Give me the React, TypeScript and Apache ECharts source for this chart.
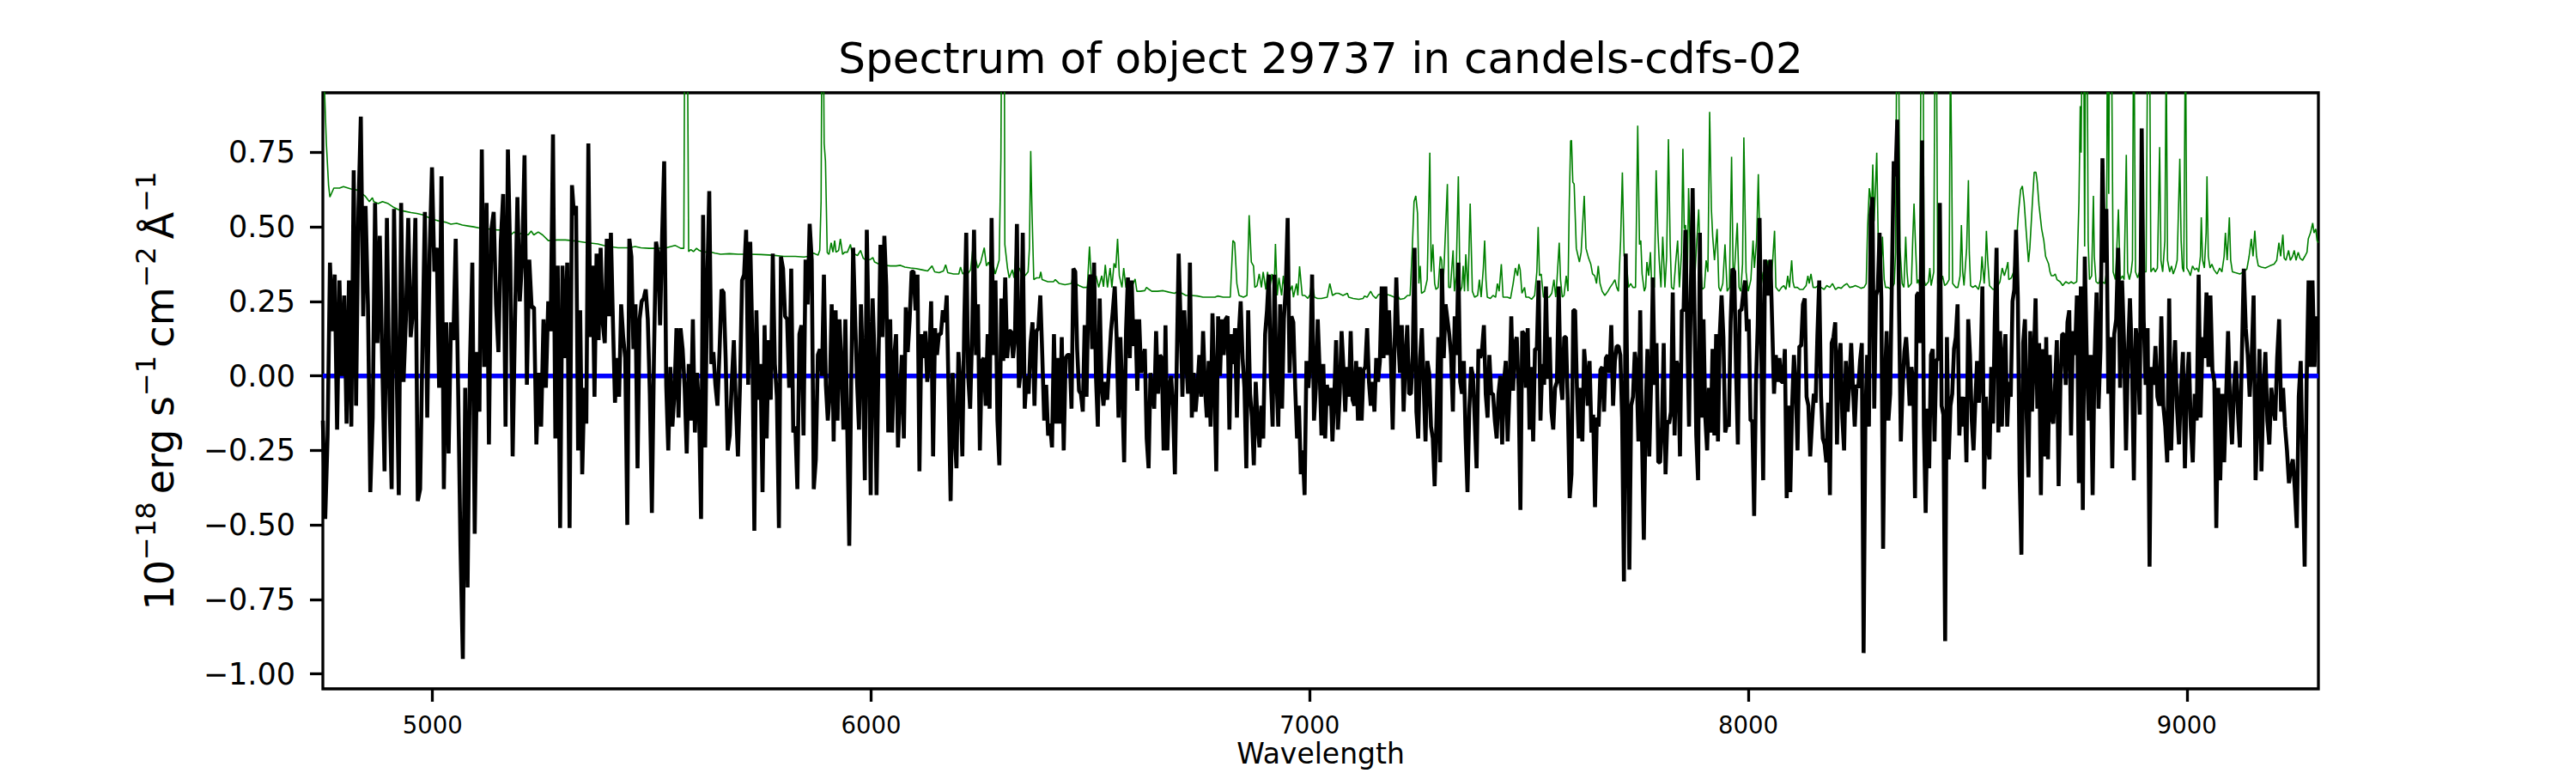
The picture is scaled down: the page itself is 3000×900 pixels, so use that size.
import React, { useEffect, useRef } from "react";
import * as echarts from "echarts";

const TITLE = "Spectrum of object 29737 in candels-cdfs-02";
const X_LABEL = "Wavelength";
const X_MIN = 4750;
const X_MAX = 9300;
const Y_MIN = -1.05;
const Y_MAX = 0.95;
const X_TICKS = [5000, 6000, 7000, 8000, 9000];
const Y_TICKS = [-1.0, -0.75, -0.5, -0.25, 0.0, 0.25, 0.5, 0.75];

// wavelength edges of the read-off chunks of the flux spectrum
const SEGMENT_EDGES = [4750, 5318, 5888, 6457, 7027, 7597, 8166, 8736, 9300];

const FLUX_A = [-0.15, -0.48, -0.20, 0.38, 0.15, 0.34, -0.18, 0.32, 0.00, 0.27, -0.16, 0.32, -0.17, 0.69, -0.10, 0.56, 0.87, 0.20, 0.57, 0.24, -0.39, -0.14, 0.58, 0.11, 0.47, 0.06, -0.32, 0.53, -0.04, -0.38, 0.56, 0.07, -0.40, 0.58, -0.02, 0.19, 0.53, 0.13, 0.22, 0.53, -0.42, -0.38, 0.11, 0.55, -0.14, 0.41, 0.70, 0.35, 0.43, -0.04, 0.67, -0.38, 0.18, -0.26, 0.18, 0.12, 0.46, -0.03, -0.57, -0.95, -0.04, -0.71, 0.04, 0.38, -0.53, 0.08, -0.12, 0.76, 0.03, 0.58, -0.23, 0.49, 0.55, 0.24, 0.08, 0.45, 0.61, -0.17, 0.76, 0.39, -0.27, 0.19, 0.60, 0.25, 0.39, 0.74, -0.03, 0.39, 0.23, 0.23, -0.23, 0.01, -0.17, 0.19, -0.04, 0.25, 0.15, 0.81, -0.21, 0.37, -0.51, 0.37, 0.06, 0.38, -0.51];
const FLUX_B = [0.64, 0.54, 0.57, -0.25, 0.22, -0.33, -0.04, -0.16, 0.78, 0.13, 0.37, -0.07, 0.41, 0.12, 0.43, 0.18, 0.11, 0.46, 0.20, 0.48, 0.18, -0.09, 0.06, -0.07, 0.24, 0.13, 0.06, -0.50, 0.46, 0.40, 0.09, 0.24, -0.31, 0.19, 0.25, 0.26, 0.29, 0.19, -0.06, -0.46, 0.06, 0.45, 0.41, 0.17, 0.47, 0.72, -0.03, -0.25, 0.03, -0.17, -0.06, 0.16, -0.14, 0.16, 0.09, -0.04, -0.26, 0.04, -0.15, 0.19, -0.19, 0.01, -0.11, -0.48, 0.54, -0.24, 0.31, 0.62, 0.04, 0.08, -0.03, -0.10, 0.08, 0.29, 0.28, 0.06, -0.25, -0.20, -0.02, 0.12, -0.10, -0.27, -0.03, 0.32, 0.34, 0.49, -0.03, 0.45, 0.13, -0.52, 0.22, -0.08, 0.04, -0.39, 0.17, -0.21, 0.12, -0.08, 0.41, 0.04, -0.07, -0.51, 0.40, 0.36, 0.20, 0.19, -0.04, 0.36, -0.19, -0.17, -0.38, 0.14, 0.17, -0.20, 0.39, 0.24, 0.51, 0.39, -0.38, -0.28, 0.07, 0.09];
const FLUX_C = [0.00, 0.34, -0.03, -0.15, -0.06, 0.24, -0.22, 0.22, -0.15, 0.19, 0.03, -0.18, 0.19, -0.18, -0.57, -0.02, 0.43, 0.20, -0.02, -0.18, 0.24, 0.03, -0.35, 0.49, 0.13, -0.40, 0.26, 0.06, -0.40, 0.05, 0.44, 0.13, 0.47, 0.30, -0.19, 0.19, -0.19, 0.06, 0.14, -0.24, -0.07, 0.07, -0.21, 0.23, 0.08, 0.19, 0.35, 0.35, 0.22, 0.34, -0.32, 0.14, 0.06, 0.15, -0.02, 0.06, 0.25, -0.27, 0.16, 0.07, 0.14, 0.14, 0.22, 0.18, 0.27, -0.07, -0.42, 0.01, -0.19, -0.31, 0.08, -0.03, -0.27, 0.18, 0.48, 0.00, -0.11, 0.13, 0.49, 0.07, 0.24, -0.25, 0.05, 0.06, -0.10, 0.14, -0.11, 0.53, 0.07, 0.32, -0.15, -0.30, 0.26, 0.05, 0.33, 0.06, 0.15, 0.15, 0.06, 0.13, 0.51, -0.04, 0.02, 0.48, -0.11, 0.00, -0.06, 0.11, 0.18, -0.10, 0.15, 0.16, 0.27, 0.07, -0.15, -0.03, -0.20, -0.16, -0.24, 0.14, -0.16, 0.06, -0.16, 0.13, -0.25, 0.06, 0.07, 0.07];
const FLUX_D = [-0.11, 0.36, 0.35, 0.09, -0.05, -0.06, -0.12, 0.17, -0.07, 0.29, 0.34, 0.09, 0.38, 0.00, -0.17, 0.26, -0.03, -0.10, -0.02, -0.08, 0.04, 0.15, 0.22, 0.30, 0.13, -0.14, 0.13, -0.06, -0.29, 0.15, 0.33, 0.06, 0.32, 0.10, 0.19, -0.05, 0.19, 0.01, 0.06, 0.09, -0.21, -0.31, 0.01, -0.06, -0.11, 0.15, -0.06, 0.07, 0.06, -0.25, 0.17, -0.25, -0.04, 0.00, -0.11, -0.33, 0.05, 0.41, 0.19, -0.07, 0.22, 0.05, -0.06, 0.38, -0.14, 0.01, -0.12, -0.04, 0.07, -0.07, 0.15, -0.04, -0.14, 0.05, -0.17, 0.21, -0.02, -0.32, 0.20, 0.00, 0.19, 0.07, 0.19, 0.20, -0.18, 0.14, 0.04, 0.16, -0.14, 0.14, 0.25, 0.06, -0.04, -0.31, 0.22, -0.06, -0.14, -0.30, -0.02, -0.16, -0.24, -0.10, -0.21, 0.14, 0.22, 0.34, 0.00, -0.17, 0.34, 0.00, -0.17, 0.24, -0.11, 0.19, 0.30, 0.53, 0.01, 0.20, 0.18, -0.04, -0.21, -0.10, -0.33, -0.25, -0.40, 0.05, -0.04, 0.05, 0.34, -0.15, -0.04, 0.19, 0.02];
const FLUX_E = [-0.20, 0.04, -0.21, -0.03, -0.10, -0.04, -0.22, -0.07, 0.12, -0.18, -0.06, 0.15, 0.03, -0.12, 0.03, -0.07, 0.15, -0.08, -0.10, 0.05, -0.15, 0.03, -0.15, 0.02, 0.03, 0.16, -0.02, -0.10, -0.02, -0.12, 0.06, -0.02, 0.05, 0.30, 0.06, 0.30, 0.07, 0.22, 0.06, -0.18, 0.09, 0.33, 0.13, 0.01, 0.17, -0.12, 0.06, 0.17, -0.06, -0.06, 0.07, 0.43, -0.12, -0.21, 0.06, 0.16, -0.03, -0.22, 0.05, 0.01, -0.17, -0.21, -0.37, -0.15, 0.13, -0.29, 0.36, 0.06, 0.24, 0.19, 0.14, 0.07, -0.12, 0.20, 0.07, 0.38, -0.02, -0.06, 0.05, -0.21, -0.39, -0.11, 0.03, 0.00, -0.15, -0.31, 0.09, 0.06, 0.09, 0.17, -0.06, -0.14, 0.07, -0.06, -0.06, -0.15, -0.21, -0.06, 0.00, -0.23, -0.02, 0.05, -0.22, -0.05, 0.20, -0.05, 0.11, 0.13, -0.04, -0.45, 0.15, 0.14, -0.04, 0.16, -0.18, 0.03, -0.22, 0.09, 0.09, 0.32, -0.15, 0.04, -0.03, 0.30, -0.01, 0.13, -0.12, -0.18, -0.04, -0.02, 0.30, -0.02, -0.08, 0.13, 0.13, -0.10, -0.41];
const FLUX_F = [-0.33, 0.22, 0.22, -0.04, -0.21, -0.04, -0.22, 0.09, 0.01, -0.10, 0.05, -0.19, -0.13, -0.44, -0.14, -0.17, 0.02, 0.03, -0.12, 0.06, 0.07, 0.01, 0.17, -0.10, 0.05, 0.10, 0.10, 0.07, -0.14, -0.69, 0.41, -0.12, -0.65, -0.10, -0.07, 0.08, 0.03, -0.22, 0.22, -0.21, -0.55, -0.12, 0.09, -0.27, -0.03, 0.33, -0.03, 0.11, -0.29, -0.29, -0.17, 0.11, -0.33, -0.15, -0.16, -0.12, 0.28, -0.20, 0.05, 0.03, -0.27, 0.22, 0.22, 0.49, 0.15, -0.17, 0.29, 0.63, 0.22, -0.20, -0.35, 0.48, -0.14, 0.19, -0.14, -0.25, -0.04, -0.19, 0.09, -0.20, 0.14, -0.22, 0.14, 0.27, 0.13, -0.19, -0.16, -0.17, 0.18, 0.36, 0.35, 0.02, -0.23, 0.22, 0.22, 0.28, 0.32, 0.15, 0.19, -0.15, -0.15, -0.47, -0.03, 0.17, 0.53, 0.06, -0.35, 0.39, 0.35, 0.27, 0.39, 0.17, -0.06, 0.07, -0.02, 0.06, -0.02, -0.02, 0.09, -0.41, -0.10, -0.39, -0.10, 0.07, -0.04, -0.25, 0.10, 0.10, 0.24, 0.26, -0.07, -0.10, -0.27, -0.16, -0.06, -0.09, 0.14, 0.32];
const FLUX_G = [-0.07, -0.21, -0.23, -0.29, -0.09, -0.40, 0.11, 0.13, 0.18, -0.23, 0.06, 0.11, -0.14, -0.25, 0.05, -0.12, -0.02, 0.11, -0.04, -0.17, -0.03, -0.04, 0.05, 0.11, -0.93, -0.15, 0.07, -0.17, 0.54, 0.60, -0.11, 0.27, 0.29, 0.48, 0.26, -0.58, -0.02, 0.15, -0.15, -0.06, 0.34, 0.72, 0.67, 0.86, 0.22, -0.22, -0.04, 0.08, 0.13, 0.03, -0.10, 0.03, -0.02, -0.41, 0.27, 0.28, 0.11, 0.79, -0.17, -0.46, -0.11, -0.31, 0.07, 0.09, -0.22, 0.05, 0.06, 0.58, -0.10, -0.13, -0.89, 0.13, -0.28, -0.10, -0.06, 0.09, 0.13, 0.24, -0.20, -0.07, -0.17, -0.07, -0.29, 0.19, 0.07, -0.15, -0.25, -0.09, 0.05, -0.09, 0.03, 0.30, -0.38, -0.07, -0.24, -0.28, 0.03, -0.16, 0.19, 0.43, -0.19, 0.15, -0.17, 0.06, 0.14, -0.17, -0.02, -0.07, 0.25, 0.29, 0.49, 0.26, -0.33, -0.60, 0.11, 0.19, -0.14, -0.34, 0.15, -0.12, 0.06, 0.26, -0.11, 0.11, -0.40, 0.09, -0.27, 0.13, -0.28, 0.07, -0.14, -0.16, -0.03, 0.12, -0.37, -0.03, 0.14, 0.14, -0.03, 0.18, 0.22];
const FLUX_H = [-0.20, 0.15, 0.07, 0.27, -0.36, 0.30, -0.45, 0.40, 0.07, -0.15, 0.07, -0.40, 0.06, 0.28, -0.11, 0.09, 0.73, 0.38, 0.56, -0.06, 0.13, -0.31, 0.14, 0.19, 0.43, -0.04, 0.32, 0.11, -0.25, 0.07, 0.26, 0.06, -0.35, 0.16, 0.09, -0.13, 0.83, 0.19, -0.03, 0.16, -0.64, 0.03, -0.03, 0.10, -0.07, -0.10, 0.20, -0.10, -0.17, -0.29, 0.26, -0.25, -0.02, 0.12, -0.11, -0.23, -0.04, 0.08, -0.31, -0.04, 0.08, -0.17, -0.29, -0.06, -0.15, 0.34, -0.14, 0.13, 0.06, 0.28, 0.03, 0.27, 0.02, -0.02, -0.51, -0.04, -0.35, -0.06, -0.29, -0.07, 0.15, -0.10, -0.23, -0.04, 0.05, -0.12, -0.24, 0.06, 0.36, 0.16, 0.07, -0.07, 0.06, 0.27, -0.35, -0.15, 0.09, -0.32, -0.04, 0.08, -0.15, -0.23, -0.04, -0.11, -0.15, 0.06, 0.19, -0.12, -0.04, -0.17, -0.25, -0.36, -0.31, -0.28, -0.38, -0.51, -0.07, 0.05, -0.31, -0.64, -0.02, 0.32, 0.03, 0.32, 0.03, 0.20];

// noise spectrum: [wavelength, value]
const NOISE_BLUE_END = [[4750, 1.40], [4754, 0.95], [4758, 0.78], [4763, 0.64], [4766, 0.60], [4775, 0.63], [4788, 0.63], [4797, 0.635], [4814, 0.627], [4827, 0.624], [4837, 0.614], [4846, 0.604], [4856, 0.585], [4863, 0.598], [4866, 0.585], [4876, 0.578], [4886, 0.585], [4899, 0.578], [4912, 0.565], [4925, 0.556], [4938, 0.552], [4951, 0.548], [4964, 0.545], [4977, 0.541], [4990, 0.532], [5003, 0.525], [5016, 0.519], [5029, 0.516], [5042, 0.509], [5055, 0.512], [5068, 0.506], [5081, 0.503], [5094, 0.50], [5107, 0.496], [5127, 0.493], [5146, 0.49], [5166, 0.489], [5179, 0.473], [5186, 0.483], [5195, 0.473], [5205, 0.48], [5218, 0.473], [5225, 0.486], [5231, 0.473], [5241, 0.483], [5251, 0.473], [5264, 0.454], [5270, 0.454], [5284, 0.456], [5303, 0.456],
  [5318, 0.454], [5338, 0.45], [5351, 0.447], [5377, 0.443], [5390, 0.438], [5403, 0.434], [5423, 0.43], [5449, 0.43], [5462, 0.434], [5475, 0.43], [5494, 0.428], [5514, 0.428], [5533, 0.43], [5553, 0.438], [5566, 0.428], [5573, 0.428], [5576, 1.50], [5580, 1.50], [5584, 0.417], [5589, 0.424], [5595, 0.417], [5602, 0.428], [5608, 0.421], [5618, 0.415], [5631, 0.417], [5644, 0.412], [5657, 0.408], [5677, 0.41], [5697, 0.408], [5723, 0.408], [5749, 0.407], [5775, 0.405], [5801, 0.401], [5827, 0.401], [5847, 0.399], [5856, 0.401], [5869, 0.412], [5879, 0.405], [5883, 0.421], [5886, 0.585], [5888, 1.20], [5891, 1.20]];
const NOISE_GREEN = [[5893, 0.78], [5896, 0.72], [5900, 0.414], [5904, 0.408], [5909, 0.447], [5913, 0.415], [5917, 0.454], [5920, 0.415], [5926, 0.421], [5930, 0.46], [5935, 0.408], [5940, 0.415], [5946, 0.415], [5953, 0.441], [5958, 0.401], [5963, 0.408], [5969, 0.404], [5976, 0.421], [5982, 0.395], [5989, 0.388], [5999, 0.391], [6004, 0.397], [6008, 0.382], [6018, 0.375], [6031, 0.371], [6044, 0.369], [6057, 0.369], [6067, 0.371], [6077, 0.365], [6090, 0.362], [6103, 0.36], [6116, 0.356], [6129, 0.352], [6139, 0.369], [6145, 0.349], [6155, 0.346], [6165, 0.352], [6170, 0.373], [6175, 0.346], [6188, 0.342], [6200, 0.342], [6204, 0.365], [6209, 0.342], [6214, 0.349], [6220, 0.342], [6227, 0.356], [6234, 0.454], [6237, 0.401], [6243, 0.362], [6250, 0.382], [6258, 0.43], [6263, 0.369], [6268, 0.382], [6273, 0.356], [6279, 0.369], [6283, 0.342], [6287, 0.362], [6292, 0.388], [6296, 0.73], [6299, 1.60], [6303, 1.60], [6305, 0.441], [6311, 0.362], [6315, 0.329], [6322, 0.356], [6326, 0.329], [6330, 0.415], [6334, 0.349], [6338, 0.362], [6344, 0.336], [6351, 0.336], [6358, 0.349], [6361, 0.428], [6364, 0.755], [6367, 0.545], [6371, 0.323], [6377, 0.329], [6384, 0.329], [6387, 0.349], [6390, 0.323], [6403, 0.316], [6416, 0.316], [6420, 0.323], [6429, 0.31], [6442, 0.306], [6457, 0.31],
  [6463, 0.362], [6467, 0.31], [6474, 0.303], [6483, 0.297], [6493, 0.297], [6498, 0.434], [6502, 0.329], [6506, 0.297], [6513, 0.336], [6519, 0.297], [6526, 0.336], [6530, 0.299], [6534, 0.373], [6539, 0.297], [6545, 0.362], [6549, 0.297], [6554, 0.378], [6558, 0.362], [6562, 0.46], [6566, 0.336], [6572, 0.297], [6576, 0.362], [6581, 0.297], [6588, 0.299], [6594, 0.297], [6602, 0.325], [6606, 0.284], [6614, 0.284], [6624, 0.286], [6628, 0.297], [6634, 0.29], [6640, 0.284], [6653, 0.284], [6666, 0.286], [6679, 0.281], [6692, 0.277], [6700, 0.284], [6709, 0.277], [6718, 0.27], [6731, 0.27], [6744, 0.268], [6757, 0.264], [6771, 0.264], [6784, 0.264], [6790, 0.268], [6803, 0.264], [6819, 0.264], [6825, 0.454], [6829, 0.447], [6834, 0.31], [6839, 0.27], [6849, 0.264], [6857, 0.27], [6862, 0.539], [6867, 0.382], [6872, 0.369], [6875, 0.297], [6880, 0.303], [6885, 0.342], [6890, 0.297], [6894, 0.349], [6900, 0.29], [6904, 0.349], [6908, 0.284], [6914, 0.342], [6919, 0.284], [6922, 0.443], [6926, 0.27], [6930, 0.329], [6936, 0.27], [6940, 0.336], [6945, 0.27], [6953, 0.277], [6960, 0.303], [6963, 0.264], [6970, 0.31], [6973, 0.27], [6977, 0.368], [6983, 0.27], [6989, 0.27], [6996, 0.26], [7001, 0.273], [7005, 0.323], [7011, 0.264], [7018, 0.26]];
const NOISE_RED = [[7027, 0.26], [7040, 0.264], [7046, 0.31], [7052, 0.27], [7060, 0.277], [7066, 0.277], [7076, 0.27], [7086, 0.277], [7089, 0.264], [7099, 0.26], [7112, 0.257], [7122, 0.26], [7125, 0.268], [7131, 0.264], [7139, 0.284], [7144, 0.27], [7151, 0.26], [7157, 0.273], [7167, 0.277], [7177, 0.273], [7184, 0.27], [7193, 0.264], [7200, 0.27], [7206, 0.257], [7216, 0.26], [7223, 0.27], [7229, 0.27], [7234, 0.428], [7238, 0.585], [7242, 0.604], [7246, 0.545], [7249, 0.31], [7252, 0.369], [7255, 0.277], [7262, 0.284], [7268, 0.323], [7274, 0.749], [7277, 0.349], [7281, 0.441], [7285, 0.31], [7288, 0.29], [7293, 0.297], [7298, 0.401], [7301, 0.388], [7304, 0.297], [7307, 0.388], [7314, 0.644], [7317, 0.297], [7321, 0.297], [7327, 0.421], [7330, 0.284], [7334, 0.336], [7339, 0.67], [7343, 0.284], [7347, 0.297], [7350, 0.369], [7353, 0.284], [7356, 0.408], [7361, 0.284], [7366, 0.578], [7371, 0.284], [7376, 0.264], [7383, 0.27], [7387, 0.323], [7391, 0.264], [7396, 0.362], [7399, 0.454], [7402, 0.323], [7405, 0.264], [7412, 0.26], [7418, 0.27], [7424, 0.264], [7428, 0.31], [7432, 0.284], [7437, 0.375], [7441, 0.264], [7451, 0.264], [7458, 0.26], [7464, 0.31], [7469, 0.362], [7474, 0.336], [7477, 0.375], [7480, 0.356], [7484, 0.277], [7490, 0.297], [7493, 0.264], [7500, 0.264], [7506, 0.257], [7513, 0.27], [7518, 0.349], [7521, 0.50], [7524, 0.336], [7528, 0.342], [7533, 0.264], [7539, 0.264], [7546, 0.264], [7552, 0.277], [7557, 0.323], [7561, 0.264], [7564, 0.323], [7569, 0.447], [7572, 0.323], [7576, 0.264], [7580, 0.27], [7585, 0.336], [7589, 0.284], [7592, 0.585], [7595, 0.788], [7597, 0.79],
  [7600, 0.65], [7603, 0.644], [7608, 0.428], [7615, 0.382], [7619, 0.415], [7626, 0.604], [7630, 0.428], [7636, 0.395], [7641, 0.375], [7645, 0.342], [7650, 0.336], [7654, 0.31], [7658, 0.369], [7662, 0.31], [7667, 0.284], [7673, 0.27], [7680, 0.284], [7685, 0.297], [7691, 0.31], [7696, 0.323], [7700, 0.297], [7704, 0.284], [7709, 0.454], [7713, 0.683], [7717, 0.401], [7720, 0.408], [7724, 0.349], [7727, 0.297], [7732, 0.31], [7737, 0.297], [7743, 0.297], [7748, 0.84], [7752, 0.441], [7755, 0.454], [7758, 0.342], [7763, 0.284], [7766, 0.297], [7769, 0.382], [7773, 0.336], [7777, 0.415], [7780, 0.297], [7786, 0.297], [7790, 0.69], [7794, 0.48], [7797, 0.388], [7801, 0.297], [7805, 0.467], [7810, 0.297], [7814, 0.401], [7818, 0.794], [7822, 0.441], [7825, 0.297], [7830, 0.29], [7835, 0.388], [7839, 0.454], [7843, 0.297], [7848, 0.415], [7851, 0.762], [7854, 0.493], [7857, 0.506], [7861, 0.323], [7864, 0.63], [7869, 0.342], [7874, 0.441], [7877, 0.297], [7882, 0.434], [7887, 0.559], [7890, 0.415], [7895, 0.29], [7900, 0.297], [7904, 0.388], [7908, 0.349], [7912, 0.886], [7916, 0.559], [7919, 0.467], [7923, 0.388], [7929, 0.493], [7933, 0.297], [7937, 0.284], [7942, 0.31], [7947, 0.441], [7952, 0.284], [7957, 0.297], [7962, 0.735], [7966, 0.297], [7970, 0.388], [7975, 0.513], [7979, 0.297], [7983, 0.284], [7987, 0.375], [7990, 0.80], [7995, 0.349], [8000, 0.284], [8006, 0.323], [8011, 0.454], [8014, 0.362], [8019, 0.454], [8023, 0.677], [8027, 0.401], [8030, 0.31], [8034, 0.349], [8040, 0.303], [8045, 0.388], [8050, 0.297], [8053, 0.323], [8060, 0.487], [8063, 0.297], [8070, 0.284], [8076, 0.297], [8081, 0.303], [8086, 0.29], [8090, 0.336], [8094, 0.297], [8099, 0.388], [8102, 0.316], [8105, 0.297], [8112, 0.297], [8118, 0.29], [8125, 0.29], [8132, 0.303], [8136, 0.336], [8139, 0.31], [8143, 0.342], [8148, 0.297], [8154, 0.297], [8159, 0.303], [8166, 0.297]];
const NOISE_NIR = [[8173, 0.29], [8179, 0.303], [8186, 0.297], [8192, 0.31], [8199, 0.29], [8205, 0.297], [8212, 0.294], [8218, 0.303], [8225, 0.31], [8231, 0.297], [8238, 0.299], [8244, 0.303], [8251, 0.299], [8257, 0.294], [8264, 0.297], [8269, 0.31], [8272, 0.493], [8276, 0.63], [8278, 0.611], [8281, 0.539], [8284, 0.709], [8287, 0.519], [8290, 0.624], [8293, 0.749], [8297, 0.401], [8300, 0.31], [8303, 0.362], [8306, 0.467], [8310, 0.323], [8313, 0.297], [8319, 0.297], [8326, 0.29], [8333, 0.31], [8336, 0.415], [8339, 1.30], [8342, 1.30], [8346, 0.428], [8351, 0.31], [8355, 0.297], [8359, 0.467], [8362, 0.349], [8365, 0.297], [8372, 0.31], [8375, 0.454], [8378, 0.578], [8381, 0.454], [8385, 0.31], [8388, 0.323], [8391, 0.303], [8395, 1.40], [8398, 1.40], [8401, 0.323], [8404, 0.303], [8411, 0.316], [8414, 0.362], [8417, 0.303], [8423, 0.349], [8426, 1.20], [8429, 1.20], [8432, 0.31], [8437, 0.297], [8443, 0.336], [8448, 0.303], [8453, 0.31], [8458, 0.323], [8461, 1.10], [8464, 0.69], [8466, 0.31], [8473, 0.297], [8478, 0.297], [8483, 0.336], [8486, 0.506], [8489, 0.349], [8492, 0.303], [8498, 0.428], [8502, 0.657], [8504, 0.415], [8507, 0.303], [8512, 0.297], [8518, 0.303], [8525, 0.29], [8530, 0.323], [8533, 0.401], [8535, 0.362], [8538, 0.31], [8541, 0.388], [8543, 0.487], [8546, 0.388], [8550, 0.303], [8558, 0.29], [8567, 0.297], [8574, 0.316], [8579, 0.362], [8584, 0.336], [8589, 0.362], [8592, 0.382], [8594, 0.323], [8600, 0.329], [8605, 0.349], [8610, 0.415], [8616, 0.545], [8621, 0.624], [8625, 0.637], [8629, 0.585], [8634, 0.48], [8639, 0.382], [8642, 0.428], [8648, 0.585], [8652, 0.683], [8656, 0.683], [8659, 0.65], [8663, 0.572], [8669, 0.493], [8674, 0.454], [8678, 0.401], [8685, 0.375], [8688, 0.349], [8691, 0.336], [8696, 0.336], [8700, 0.342], [8704, 0.323], [8711, 0.316], [8717, 0.303], [8724, 0.316], [8731, 0.31], [8736, 0.316],
  [8742, 0.31], [8749, 0.316], [8754, 0.585], [8757, 0.905], [8759, 0.749], [8762, 1.30], [8765, 1.10], [8767, 0.434], [8770, 1.40], [8772, 1.40], [8775, 0.454], [8778, 0.323], [8783, 0.336], [8787, 0.604], [8789, 0.401], [8793, 0.316], [8798, 0.31], [8801, 0.316], [8804, 0.356], [8807, 0.316], [8813, 0.31], [8817, 0.349], [8819, 1.30], [8822, 0.611], [8824, 1.30], [8828, 1.20], [8832, 0.349], [8837, 0.323], [8840, 0.415], [8844, 0.559], [8848, 0.323], [8853, 0.336], [8857, 0.323], [8862, 0.742], [8865, 0.349], [8869, 0.323], [8873, 0.349], [8876, 0.388], [8879, 1.30], [8883, 0.349], [8888, 0.329], [8892, 0.349], [8897, 0.69], [8902, 0.349], [8907, 0.349], [8911, 1.20], [8915, 1.20], [8918, 0.349], [8924, 0.362], [8928, 0.349], [8933, 0.362], [8938, 0.768], [8941, 0.388], [8945, 0.349], [8950, 0.454], [8953, 1.10], [8956, 0.388], [8961, 0.349], [8965, 0.369], [8969, 0.342], [8974, 0.362], [8978, 0.388], [8984, 0.729], [8987, 0.454], [8990, 0.362], [8993, 0.349], [8997, 1.20], [9000, 0.362], [9005, 0.349], [9008, 0.336], [9013, 0.369], [9018, 0.356], [9023, 0.362], [9027, 0.349], [9031, 0.401], [9033, 0.532], [9036, 0.388], [9040, 0.362], [9044, 0.48], [9046, 0.67], [9049, 0.401], [9053, 0.362], [9057, 0.375], [9062, 0.356], [9069, 0.342], [9075, 0.362], [9080, 0.349], [9085, 0.401], [9088, 0.48], [9092, 0.388], [9097, 0.532], [9100, 0.388], [9104, 0.349], [9111, 0.346], [9121, 0.342], [9130, 0.349], [9137, 0.359], [9142, 0.401], [9147, 0.46], [9151, 0.401], [9155, 0.487], [9159, 0.401], [9163, 0.369], [9170, 0.365], [9179, 0.362], [9189, 0.369], [9199, 0.375], [9205, 0.388], [9210, 0.447], [9214, 0.401], [9219, 0.474], [9222, 0.395], [9226, 0.388], [9232, 0.421], [9236, 0.388], [9241, 0.401], [9245, 0.421], [9249, 0.388], [9254, 0.415], [9258, 0.395], [9264, 0.388], [9269, 0.401], [9274, 0.415], [9277, 0.46], [9282, 0.48], [9287, 0.513], [9290, 0.48], [9294, 0.493], [9297, 0.454], [9300, 0.447]];

// continuum model (flat at zero)
const MODEL_LEVEL = 0;

const FONT = "'DejaVu Sans', 'Liberation Sans', sans-serif";

export default function App() {
  const ref = useRef<HTMLDivElement | null>(null);

  useEffect(() => {
    if (!ref.current) return;
    const chart = echarts.init(ref.current, null, { renderer: "svg" });

    const segments = [FLUX_A, FLUX_B, FLUX_C, FLUX_D, FLUX_E, FLUX_F, FLUX_G, FLUX_H];
    const flux: number[][] = [];
    segments.forEach((seg, k) => {
      const a = SEGMENT_EDGES[k];
      const b = SEGMENT_EDGES[k + 1];
      seg.forEach((v, i) => flux.push([a + ((b - a) * i) / seg.length, v]));
    });
    const noise = [...NOISE_BLUE_END, ...NOISE_GREEN, ...NOISE_RED, ...NOISE_NIR];
    const model = [[X_MIN, MODEL_LEVEL], [X_MAX, MODEL_LEVEL]];

    const yLabelText =
      "{n|10}{s|\u221218}{n|\u2009erg s}{s|\u22121}{n|\u2009cm}{s|\u22122}{n|\u2009\u00c5}{s|\u22121}";

    chart.setOption({
      animation: false,
      backgroundColor: "#ffffff",
      textStyle: { fontFamily: FONT, color: "#000" },
      grid: {
        left: 376,
        right: 300,
        top: 108,
        bottom: 98,
        show: true,
        borderColor: "#000",
        borderWidth: 3.3,
        backgroundColor: "#fff",
        containLabel: false,
      },
      xAxis: {
        type: "value",
        min: X_MIN,
        max: X_MAX,
        axisLine: { show: false, onZero: false },
        splitLine: { show: false },
        axisTick: {
          show: true,
          customValues: X_TICKS,
          length: 15,
          inside: false,
          lineStyle: { color: "#000", width: 3.3 },
        },
        axisLabel: {
          show: true,
          customValues: X_TICKS,
          fontSize: 27.5,
          fontFamily: FONT,
          color: "#000",
          margin: 42,
          verticalAlign: "middle",
          formatter: (v: number) => String(v),
        },
      },
      yAxis: {
        type: "value",
        min: Y_MIN,
        max: Y_MAX,
        axisLine: { show: false, onZero: false },
        splitLine: { show: false },
        axisTick: {
          show: true,
          customValues: Y_TICKS,
          length: 15,
          inside: false,
          lineStyle: { color: "#000", width: 3.3 },
        },
        axisLabel: {
          show: true,
          customValues: Y_TICKS,
          fontSize: 35,
          fontFamily: FONT,
          color: "#000",
          margin: 32,
          formatter: (v: number) => (v < 0 ? "\u2212" : "") + Math.abs(v).toFixed(2),
        },
      },
      graphic: [
        {
          type: "text",
          x: 1538,
          y: 68,
          style: {
            text: TITLE,
            fontSize: 50,
            fontFamily: FONT,
            fill: "#000",
            align: "center",
            verticalAlign: "middle",
          },
        },
        {
          type: "text",
          x: 1538,
          y: 877,
          style: {
            text: X_LABEL,
            fontSize: 33,
            fontFamily: FONT,
            fill: "#000",
            align: "center",
            verticalAlign: "middle",
          },
        },
        {
          type: "text",
          x: 186,
          y: 455,
          rotation: Math.PI / 2,
          style: {
            text: yLabelText,
            fontFamily: FONT,
            fill: "#000",
            align: "center",
            verticalAlign: "middle",
            rich: {
              n: { fontSize: 46, lineHeight: 64, fontFamily: FONT, fill: "#000" },
              s: { fontSize: 32, lineHeight: 32, verticalAlign: "top", fontFamily: FONT, fill: "#000" },
            },
          },
        },
      ],
      series: [
        {
          name: "noise",
          type: "line",
          data: noise,
          showSymbol: false,
          symbol: "none",
          clip: true,
          lineStyle: { color: "#008000", width: 1.6 },
          silent: true,
          z: 2,
        },
        {
          name: "model",
          type: "line",
          data: model,
          showSymbol: false,
          symbol: "none",
          clip: true,
          lineStyle: { color: "#0000ff", width: 5.5 },
          silent: true,
          z: 3,
        },
        {
          name: "flux",
          type: "line",
          data: flux,
          showSymbol: false,
          symbol: "none",
          clip: true,
          lineStyle: { color: "#000000", width: 4.6 },
          silent: true,
          z: 4,
        },
      ],
    });

    return () => {
      chart.dispose();
    };
  }, []);

  return (
    <div
      ref={ref}
      style={{ position: "fixed", left: 0, top: 0, width: 3000, height: 900, background: "#fff" }}
    />
  );
}
